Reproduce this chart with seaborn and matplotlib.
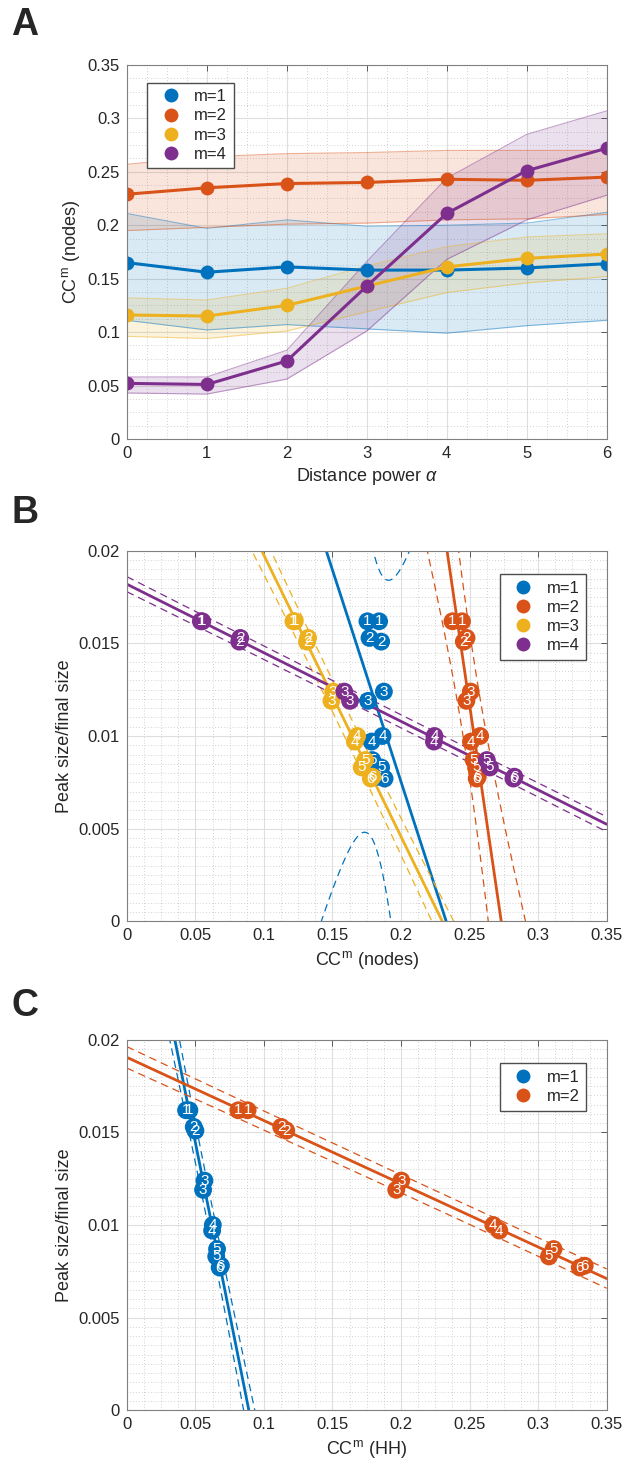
import numpy as np
import pandas as pd
import matplotlib
matplotlib.use('Agg')
import matplotlib.pyplot as plt
import seaborn as sns
from matplotlib.lines import Line2D
from matplotlib.ticker import MultipleLocator, FuncFormatter

# Panel A: CC^m (nodes) vs distance power, mean with band
alpha = [0, 1, 2, 3, 4, 5, 6]
cc_m1 = [0.165, 0.156, 0.161, 0.158, 0.158, 0.160, 0.164]
cc_m1_lo = [0.111, 0.102, 0.107, 0.103, 0.099, 0.106, 0.111]
cc_m1_hi = [0.211, 0.197, 0.205, 0.199, 0.200, 0.202, 0.212]
cc_m2 = [0.229, 0.235, 0.239, 0.240, 0.243, 0.242, 0.245]
cc_m2_lo = [0.195, 0.198, 0.201, 0.202, 0.205, 0.206, 0.210]
cc_m2_hi = [0.257, 0.264, 0.267, 0.268, 0.270, 0.270, 0.270]
cc_m3 = [0.116, 0.115, 0.125, 0.143, 0.161, 0.169, 0.173]
cc_m3_lo = [0.096, 0.094, 0.101, 0.119, 0.137, 0.146, 0.152]
cc_m3_hi = [0.132, 0.130, 0.141, 0.162, 0.180, 0.189, 0.192]
cc_m4 = [0.052, 0.051, 0.073, 0.143, 0.211, 0.251, 0.272]
cc_m4_lo = [0.043, 0.042, 0.056, 0.101, 0.168, 0.205, 0.228]
cc_m4_hi = [0.058, 0.058, 0.083, 0.166, 0.244, 0.285, 0.307]

# Panels B and C: peak size / final size vs CC^m, numbered runs
run_label = [1, 1, 2, 2, 3, 3, 4, 4, 5, 5, 6, 6]
peak_frac = [0.0162, 0.0162, 0.0153, 0.0151, 0.0124, 0.0119,
             0.0100, 0.0097, 0.0087, 0.0083, 0.0078, 0.0077]
nodes_m1 = [0.1755, 0.1840, 0.1770, 0.1855, 0.1875, 0.1760,
            0.1865, 0.1785, 0.1790, 0.1855, 0.1830, 0.1880]
nodes_m2 = [0.2375, 0.2445, 0.2478, 0.2458, 0.2509, 0.2477,
            0.2577, 0.2510, 0.2530, 0.2548, 0.2560, 0.2552]
nodes_m3 = [0.1215, 0.1225, 0.1322, 0.1315, 0.1505, 0.1492,
            0.1680, 0.1663, 0.1738, 0.1713, 0.1791, 0.1780]
nodes_m4 = [0.0540, 0.0550, 0.0827, 0.0820, 0.1586, 0.1628,
            0.2244, 0.2240, 0.2626, 0.2648, 0.2827, 0.2820]
hh_m1 = [0.0432, 0.0456, 0.0488, 0.0500, 0.0566, 0.0556,
         0.0627, 0.0622, 0.0658, 0.0652, 0.0686, 0.0677]
hh_m2 = [0.0813, 0.0881, 0.1126, 0.1163, 0.2002, 0.1965,
         0.2673, 0.2717, 0.3113, 0.3079, 0.3340, 0.3304]

colors = ['#0072BD', '#D95319', '#EDB120', '#7E2F8E']
m_names = ['m=1', 'm=2', 'm=3', 'm=4']
t95 = 2.228  # two-sided 95% t value, 10 dof

sns.set_style('white')
plt.rcParams['font.family'] = ['Liberation Sans', 'DejaVu Sans']
plt.rcParams['mathtext.fontset'] = 'custom'
plt.rcParams['mathtext.rm'] = 'Liberation Sans'
plt.rcParams['mathtext.it'] = 'Liberation Sans:italic'


def style_axes(ax, xmaj, xmin, ymaj, ymin, xlim, ylim):
    ax.set_xlim(*xlim)
    ax.set_ylim(*ylim)
    ax.xaxis.set_major_locator(MultipleLocator(xmaj))
    ax.xaxis.set_minor_locator(MultipleLocator(xmin))
    ax.yaxis.set_major_locator(MultipleLocator(ymaj))
    ax.yaxis.set_minor_locator(MultipleLocator(ymin))
    fmt = FuncFormatter(lambda v, p: '%g' % round(v, 6))
    ax.xaxis.set_major_formatter(fmt)
    ax.yaxis.set_major_formatter(fmt)
    ax.set_axisbelow(True)
    ax.grid(which='major', color='#dedede', lw=0.8, ls='-')
    ax.grid(which='minor', color='#c4c4c4', lw=0.6, ls=(0, (1, 2.5)))
    ax.tick_params(which='major', direction='in', top=True, right=True,
                   length=4, width=0.7, color='0.35', labelsize=12,
                   labelcolor='0.15', pad=5)
    ax.tick_params(which='minor', length=0)
    for sp in ax.spines.values():
        sp.set_color('0.5')
        sp.set_linewidth(0.8)


def legend_handles(n):
    return [Line2D([], [], ls='none', marker='o', markersize=10,
                   markeredgewidth=0, color=colors[i], label=m_names[i])
            for i in range(n)]


fig = plt.figure(figsize=(6.28, 14.72), dpi=100)
axA = fig.add_axes([0.202, 0.7018, 0.764, 0.2541])
axB = fig.add_axes([0.202, 0.3743, 0.764, 0.2514])
axC = fig.add_axes([0.202, 0.0421, 0.764, 0.2514])

# ---- Panel A ----
lows = [cc_m1_lo, cc_m2_lo, cc_m3_lo, cc_m4_lo]
highs = [cc_m1_hi, cc_m2_hi, cc_m3_hi, cc_m4_hi]
for i in range(4):
    axA.fill_between(alpha, lows[i], highs[i], color=colors[i], alpha=0.15, lw=0)
    axA.plot(alpha, lows[i], color=colors[i], alpha=0.45, lw=0.8)
    axA.plot(alpha, highs[i], color=colors[i], alpha=0.45, lw=0.8)
dfA = pd.DataFrame({
    'alpha': alpha * 4,
    'cc': cc_m1 + cc_m2 + cc_m3 + cc_m4,
    'm': [n for n in m_names for _ in alpha],
})
sns.lineplot(data=dfA, x='alpha', y='cc', hue='m', palette=colors, marker='o',
             markersize=10, markeredgewidth=0, linewidth=2.2, legend=False, ax=axA)
style_axes(axA, 1, 0.25, 0.05, 0.0125, (0, 6), (0, 0.35))
axA.set_xlabel('Distance power $\\alpha$', fontsize=13, color='0.15')
axA.set_ylabel('CC$^{\\rm m}$ (nodes)', fontsize=13, color='0.15')
axA.legend(handles=legend_handles(4), loc='upper left', fontsize=12,
           bbox_to_anchor=(0.025, 0.975), fancybox=False, framealpha=1,
           edgecolor='0.3', handletextpad=0.4, borderpad=0.4, labelspacing=0.25)


def scatter_panel(ax, xs_list, n):
    xx = np.linspace(0, 0.35, 800)
    for i in range(n):
        x = np.array(xs_list[i])
        y = np.array(peak_frac)
        coef = np.polyfit(x, y, 1)
        yhat = np.polyval(coef, xx)
        res = y - np.polyval(coef, x)
        s = np.sqrt(np.sum(res ** 2) / (len(x) - 2))
        sxx = np.sum((x - x.mean()) ** 2)
        band = t95 * s * np.sqrt(1 + 1 / len(x) + (xx - x.mean()) ** 2 / sxx)
        ax.plot(xx, yhat, color=colors[i], lw=2, zorder=2 + i * 0.1)
        ax.plot(xx, yhat + band, color=colors[i], lw=0.9, ls=(0, (6, 4)), zorder=2)
        ax.plot(xx, yhat - band, color=colors[i], lw=0.9, ls=(0, (6, 4)), zorder=2)
    for i in range(n):
        df = pd.DataFrame({'cc': xs_list[i], 'peak': peak_frac})
        sns.scatterplot(data=df, x='cc', y='peak', color=colors[i], s=165,
                        edgecolor='none', legend=False, ax=ax, zorder=3 + i)
        for xv, yv, lab in zip(xs_list[i], peak_frac, run_label):
            ax.text(xv, yv, str(lab), color='white', fontsize=11,
                    ha='center', va='center', zorder=3.5 + i)


# ---- Panel B ----
scatter_panel(axB, [nodes_m1, nodes_m2, nodes_m3, nodes_m4], 4)
style_axes(axB, 0.05, 0.0125, 0.005, 0.0005, (0, 0.35), (0, 0.02))
axB.set_xlabel('CC$^{\\rm m}$ (nodes)', fontsize=13, color='0.15')
axB.set_ylabel('Peak size/final size', fontsize=13, color='0.15')
axB.legend(handles=legend_handles(4), loc='upper right', fontsize=12,
           bbox_to_anchor=(0.975, 0.96), fancybox=False, framealpha=1,
           edgecolor='0.3', handletextpad=0.4, borderpad=0.4, labelspacing=0.25)

# ---- Panel C ----
scatter_panel(axC, [hh_m1, hh_m2], 2)
style_axes(axC, 0.05, 0.0125, 0.005, 0.0005, (0, 0.35), (0, 0.02))
axC.set_xlabel('CC$^{\\rm m}$ (HH)', fontsize=13, color='0.15')
axC.set_ylabel('Peak size/final size', fontsize=13, color='0.15')
axC.legend(handles=legend_handles(2), loc='upper right', fontsize=12,
           bbox_to_anchor=(0.975, 0.96), fancybox=False, framealpha=1,
           edgecolor='0.3', handletextpad=0.4, borderpad=0.4, labelspacing=0.25)

for lab, ytop in zip(['A', 'B', 'C'], [0.995, 0.664, 0.329]):
    fig.text(0.018, ytop, lab, fontsize=27, fontweight='bold', va='top',
             family=['Liberation Sans', 'DejaVu Sans'])

fig.savefig('out.png', dpi=100)
